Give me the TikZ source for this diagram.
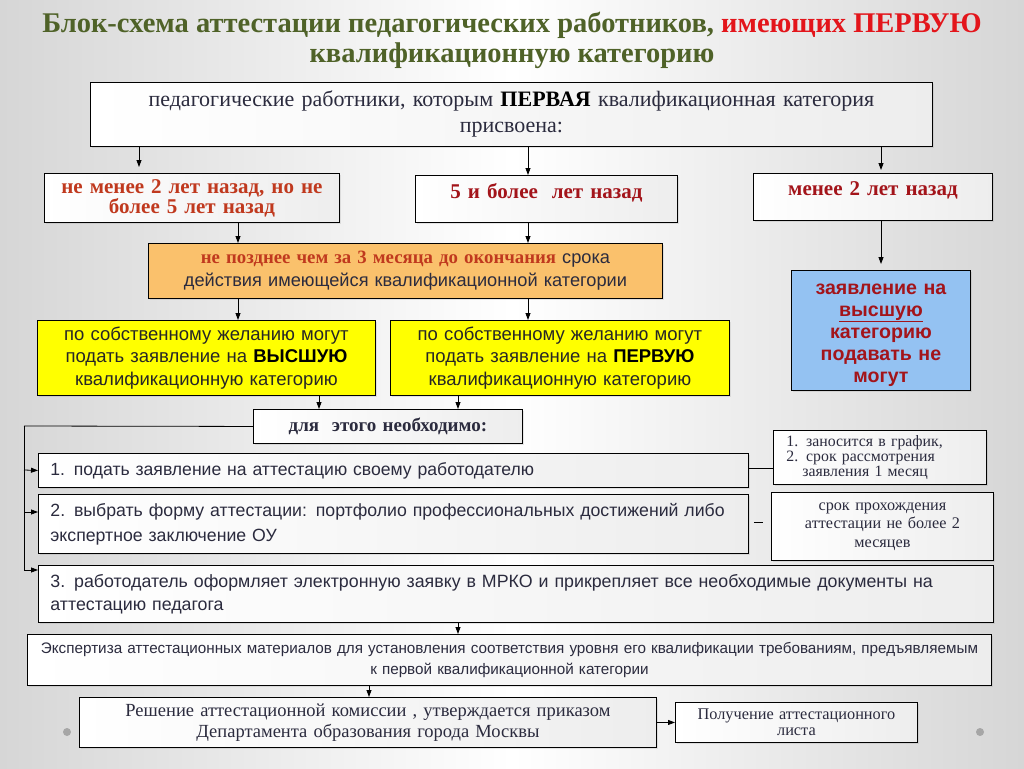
\documentclass[tikz,border=0pt]{standalone}
\usepackage{fontspec}
\setmainfont{Liberation Serif}
\setsansfont{Liberation Sans}
\usetikzlibrary{arrows.meta,shadows,calc}
\definecolor{olive}{HTML}{4F6228}
\definecolor{tred}{HTML}{E3151B}
\definecolor{navy}{HTML}{2B2B3E}
\definecolor{dred}{HTML}{A3141A}
\definecolor{bred}{HTML}{C0391E}
\definecolor{orfill}{HTML}{FAC16C}
\definecolor{blfill}{HTML}{94C2F2}
\definecolor{ylfill}{HTML}{FFFF00}
\definecolor{bgg}{HTML}{D6D6D6}
\newcommand{\fs}[2]{\fontsize{#1}{#2}\selectfont}
\tikzset{
  box/.style={draw=black, line width=0.9pt, left color=white, right color=black!7, inner sep=0pt, anchor=north west, align=center, text=navy,
    drop shadow={opacity=0.18, shadow xshift=2pt, shadow yshift=-2pt}},
  cbox/.style={box, fill=#1, left color=#1, right color=#1},
  arr/.style={draw=black, line width=0.8pt, -{Triangle[length=7pt,width=5pt]}},
  ln/.style={draw=black, line width=0.8pt},
}
\begin{document}
\begin{tikzpicture}[x=1pt,y=-1pt]
\useasboundingbox (0,0) rectangle (1024,768);
\shade[left color=bgg, right color=bgg, middle color=white] (0,0) rectangle (1024,768);
% title
\node[font=\bfseries\fs{28.5}{30}, text=olive, align=center] (title) at (512,40)
  {Блок-схема аттестации педагогических работников, \textcolor{tred}{имеющих ПЕРВУЮ}\\квалификационную категорию};
% boxes
\node[box, minimum width=842, minimum height=64, text width=830, font=\fs{22}{26}] (top) at (90,82)
  {педагогические работники, которым \textbf{\color{black}ПЕРВАЯ} квалификационная категория\\присвоена:};
\node[box, minimum width=295, minimum height=49, text width=285, font=\bfseries\fs{21}{20}, text=bred] (lt) at (44,173)
  {не менее 2 лет назад, но не\\более 5 лет назад};
\node[box, minimum width=262, minimum height=47, text width=250, font=\bfseries\fs{21}{20}, text=dred] (mid) at (415,175)
  {5 и более\ \ лет назад\\[-4pt]\mbox{}};
\node[box, minimum width=239, minimum height=47, text width=230, font=\bfseries\fs{21}{20}, text=dred] (rt) at (753,173)
  {менее 2 лет назад\\[-4pt]\mbox{}};
\node[cbox=orfill, minimum width=514, minimum height=55, text width=508, font=\sffamily\fs{18.2}{23}] (or) at (148,243)
  {\textcolor{bred}{\rmfamily\bfseries\fontsize{18.8}{23}\selectfont не позднее чем за 3 месяца до окончания} срока\\действия имеющейся квалификационной категории};
\node[cbox=blfill, minimum width=179, minimum height=120, text width=177, font=\sffamily\bfseries\fs{19.6}{22}, text=dred] (bl) at (791,270)
  {\vphantom{Д}\\[-16pt]заявление на\\\underline{высшую}\\категорию\\подавать не\\могут};
\node[cbox=ylfill, minimum width=338, minimum height=75, text width=336, font=\sffamily\fs{18.5}{22.5}, text=black!85] (yl) at (37,320)
  {по собственному желанию могут\\подать заявление на \textbf{\color{black}ВЫСШУЮ}\\квалификационную категорию};
\node[cbox=ylfill, minimum width=339, minimum height=75, text width=336, font=\sffamily\fs{18.5}{22.5}, text=black!85] (yr) at (390,320)
  {по собственному желанию могут\\подать заявление на \textbf{\color{black}ПЕРВУЮ}\\квалификационную категорию};
\node[box, minimum width=269, minimum height=34, text width=265, font=\bfseries\fs{19}{20}] (need) at (253,409)
  {для\ \ этого необходимо:};
\node[box, minimum width=710, minimum height=34, text width=686, align=left, font=\sffamily\fs{17.6}{24}] (b1) at (38,453)
  {1. подать заявление на аттестацию своему работодателю};
\node[box, minimum width=213, minimum height=54, text width=187, align=left, font=\fs{15.8}{15}] (n1) at (773,430)
  {1. заносится в график,\\2. срок рассмотрения\\\hspace*{16pt}заявления 1 месяц};
\node[box, minimum width=222, minimum height=68, text width=215, font=\fs{16.2}{18.5}] (n2) at (771,492)
  {срок прохождения\\аттестации не более 2\\месяцев};
\node[box, minimum width=710, minimum height=59, text width=686, align=left, font=\sffamily\fs{17.7}{25}] (b2) at (38,494)
  {2. выбрать форму аттестации: портфолио профессиональных достижений либо\\экспертное заключение ОУ};
\node[box, minimum width=955, minimum height=57, text width=931, align=left, font=\sffamily\fs{17.8}{23}] (b3) at (38,565)
  {3. работодатель оформляет электронную заявку в МРКО и прикрепляет все необходимые документы на\\аттестацию педагога};
\node[box, minimum width=964, minimum height=51, text width=960, font=\sffamily\fs{15.25}{21}] (ex) at (27,634)
  {Экспертиза аттестационных материалов для установления соответствия уровня его квалификации требованиям, предъявляемым\\к первой квалификационной категории};
\node[box, minimum width=577, minimum height=50, text width=570, font=\fs{18.5}{21}] (dec) at (79,697)
  {Решение аттестационной комиссии , утверждается приказом\\Департамента образования города Москвы};
\node[box, minimum width=242, minimum height=40, text width=238, font=\fs{16.3}{15.5}] (fin) at (675,702)
  {Получение аттестационного\\листа};
% connectors
\draw[arr, shorten >=6pt] (top.south -| 139,0) -- (lt.north -| 139,0);
\draw[arr] (top.south -| 528,0) -- (mid.north -| 528,0);
\draw[arr, shorten >=3pt] (top.south -| 881,0) -- (rt.north -| 881,0);
\draw[arr] (lt.south -| 238,0) -- (or.north -| 238,0);
\draw[arr] (mid.south -| 528,0) -- (or.north -| 528,0);
\draw[arr, shorten >=6pt] (rt.south -| 881,0) -- (bl.north -| 881,0);
\draw[arr] (or.south -| 238,0) -- (yl.north -| 238,0);
\draw[arr] (or.south -| 528,0) -- (yr.north -| 528,0);
\draw[arr] (yl.south -| 319,0) -- (need.north -| 319,0);
\draw[arr] (yr.south -| 458,0) -- (need.north -| 458,0);
\coordinate (lx) at (24,426);
\draw[ln] (need.west) -- (lx);
\draw[arr] (lx) -- (24,570) -- (b3.north west |- 0,570);
\draw[arr] (24,470) -- (b1.west);
\draw[arr] (24,512) -- (b2.west |- 0,512);
\draw[ln] (b1.east |- 0,468) -- (n1.west |- 0,468);
\draw[ln, shorten <=5pt, shorten >=8pt] (b2.east |- 0,522) -- (n2.west |- 0,522);
\draw[arr] (b3.south -| 458,0) -- (ex.north -| 458,0);
\draw[arr] (ex.south -| 369,0) -- (dec.north -| 369,0);
\draw[arr] (dec.east) -- (fin.west);
% decorative dots
\fill[gray!70] (67,732) circle (4);
\fill[gray!70] (980,732) circle (4);
\end{tikzpicture}
\end{document}
